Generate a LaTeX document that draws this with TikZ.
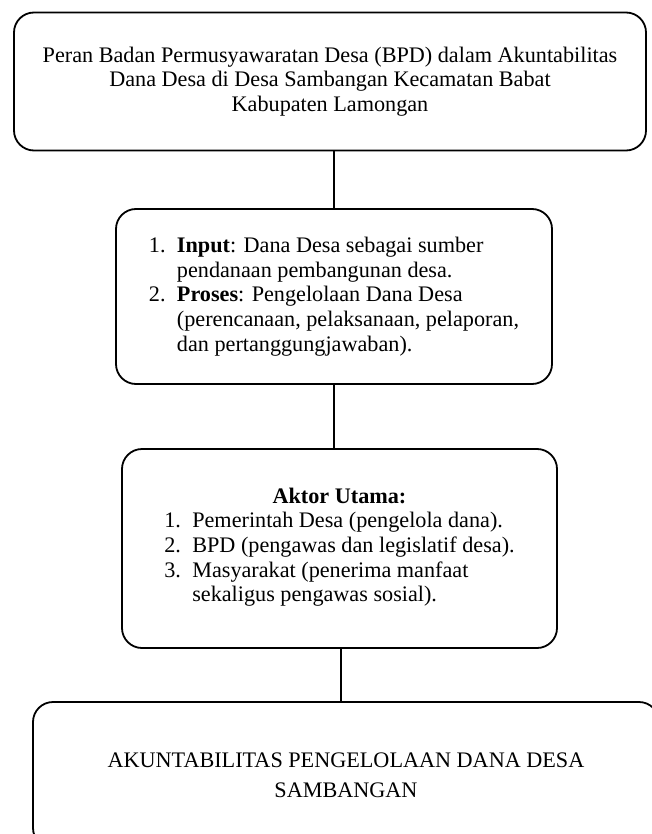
\documentclass[tikz,border=0pt]{standalone}
\usepackage{fontspec}
\setmainfont{Liberation Serif}
\usetikzlibrary{positioning}

\tikzset{
  kotak/.style={draw, line width=0.9pt, rounded corners=10pt, inner sep=0pt,
    font=\fontsize{11.1pt}{12.3pt}\selectfont},
  garis/.style={line width=0.9pt}
}
\newcommand{\nomor}[1]{\makebox[14pt][l]{#1}}

\begin{document}
\begin{tikzpicture}[x=0.5pt, y=-0.5pt]
  \useasboundingbox (0,0) rectangle (652,834);
  \clip (0,0) rectangle (652,834);

  % judul
  \node[kotak, align=center, minimum width=316pt, minimum height=69pt] (judul) at (330,81.5)
    {Peran Badan Permusyawaratan Desa (BPD) dalam Akuntabilitas\\
     Dana Desa di Desa Sambangan Kecamatan Babat\\
     Kabupaten Lamongan};

  % input dan proses
  \node[kotak, align=left, minimum width=218pt, minimum height=87.5pt] (proses) at (334,296.5)
    {\nomor{1.}\textbf{Input}: Dana Desa sebagai sumber\\
     \hspace*{14pt}pendanaan pembangunan desa.\\
     \nomor{2.}\textbf{Proses}: Pengelolaan Dana Desa\\
     \hspace*{14pt}(perencanaan, pelaksanaan, pelaporan,\\
     \hspace*{14pt}dan pertanggungjawaban).};

  % aktor
  \node[kotak, align=center, minimum width=217.5pt, minimum height=99.5pt] (aktor) at (339.5,548.5)
    {\textbf{Aktor Utama:}\\
     \begin{tabular}[t]{@{}l@{}}
       \nomor{1.}Pemerintah Desa (pengelola dana).\\
       \nomor{2.}BPD (pengawas dan legislatif desa).\\
       \nomor{3.}Masyarakat (penerima manfaat\\
       \hspace*{14pt}sekaligus pengawas sosial).
     \end{tabular}};

  % hasil
  \node[kotak, align=center, minimum width=313pt, minimum height=73pt] (hasil) at (346,775)
    {AKUNTABILITAS PENGELOLAAN DANA DESA\\[2.5pt]
     SAMBANGAN};

  \draw[garis] (proses.north) -- (proses.north |- judul.south);
  \draw[garis] (proses.south) -- (proses.south |- aktor.north);
  \draw[garis] ([xshift=0.75pt]aktor.south) -- ([xshift=0.75pt]aktor.south |- hasil.north);
\end{tikzpicture}
\end{document}
